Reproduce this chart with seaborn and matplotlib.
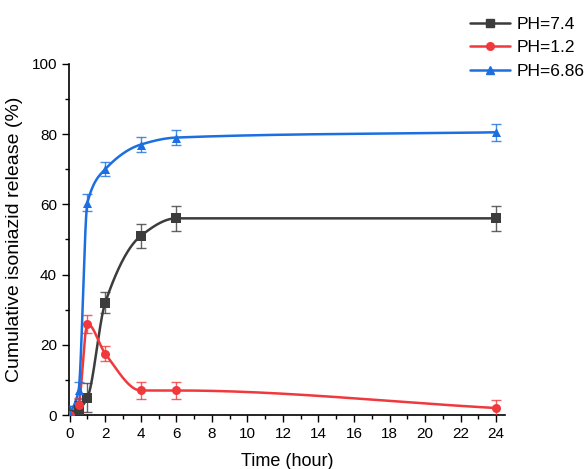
import numpy as np
import pandas as pd
import matplotlib
matplotlib.use("Agg")
import matplotlib.pyplot as plt
from matplotlib.ticker import MultipleLocator
from matplotlib.lines import Line2D
import seaborn as sns

# ---- data ----
time_h = [0, 0.5, 1, 2, 4, 6, 24]
ph74 = [0, 1.5, 5, 32, 51, 56, 56]
ph74_err = [2.5, 2.5, 4, 3, 3.5, 3.5, 3.5]
ph12 = [0, 3, 26, 17.5, 7, 7, 2]
ph12_err = [1.5, 2, 2.5, 2.2, 2.5, 2.5, 2.2]
ph686 = [0, 7, 60.5, 70, 77, 79, 80.5]
ph686_err = [2.5, 2.5, 2.5, 2, 2.2, 2.2, 2.5]
series_names = ["PH=7.4", "PH=1.2", "PH=6.86"]

colors = ["#3c3c3c", "#f0393c", "#1b6fe0"]
markers = ["s", "o", "^"]


def pchip(x, y, xs):
    x = np.asarray(x, float); y = np.asarray(y, float)
    h = np.diff(x); d = np.diff(y) / h
    n = len(x); m = np.zeros(n)
    for k in range(1, n - 1):
        if d[k - 1] * d[k] > 0:
            w1 = 2 * h[k] + h[k - 1]; w2 = h[k] + 2 * h[k - 1]
            m[k] = (w1 + w2) / (w1 / d[k - 1] + w2 / d[k])
    m[0] = d[0]; m[-1] = d[-1]
    if d[0] * m[1] < 0: m[0] = 0
    out = np.empty_like(xs)
    for i, xv in enumerate(xs):
        k = min(np.searchsorted(x, xv, side="right") - 1, n - 2)
        t = (xv - x[k]) / h[k]
        h00 = 2*t**3 - 3*t**2 + 1; h10 = t**3 - 2*t**2 + t
        h01 = -2*t**3 + 3*t**2; h11 = t**3 - t**2
        out[i] = h00*y[k] + h10*h[k]*m[k] + h01*y[k+1] + h11*h[k]*m[k+1]
    return out


sns.set_style("ticks")
plt.rcParams["font.family"] = ["Liberation Sans", "DejaVu Sans"]
plt.rcParams["text.color"] = "black"
plt.rcParams["axes.labelcolor"] = "black"
plt.rcParams["xtick.color"] = "black"
plt.rcParams["ytick.color"] = "black"

fig = plt.figure(figsize=(5.88, 4.69), dpi=100)
ax = fig.add_axes([0.117, 0.115, 0.742, 0.749])

xs = np.linspace(0, 24, 1200)
handles = []
for name, vals, errs, c, mk in zip(series_names, [ph74, ph12, ph686],
                                   [ph74_err, ph12_err, ph686_err], colors, markers):
    smooth = pd.DataFrame({"t": xs, "v": pchip(time_h, vals, xs)})
    sns.lineplot(data=smooth, x="t", y="v", color=c, lw=1.8, ax=ax, zorder=2)
    ax.errorbar(time_h, vals, yerr=errs, fmt="none", ecolor=c, elinewidth=1,
                capsize=3.5, capthick=1, alpha=0.8, zorder=3)
    pts = pd.DataFrame({"t": time_h, "v": vals})
    sns.scatterplot(data=pts, x="t", y="v", color=c, marker=mk, s=42,
                    edgecolor=c, linewidth=0, ax=ax, zorder=4)
    handles.append(Line2D([], [], color=c, lw=1.8, marker=mk, markersize=5.5, label=name))

ax.set_xlim(-0.05, 24.5)
ax.set_ylim(0, 100)
ax.xaxis.set_major_locator(MultipleLocator(2))
ax.xaxis.set_minor_locator(MultipleLocator(1))
ax.yaxis.set_major_locator(MultipleLocator(20))
ax.yaxis.set_minor_locator(MultipleLocator(10))
ax.tick_params(axis="both", which="major", length=5, width=1, labelsize=11,
               color="black", labelcolor="black")
ax.tick_params(axis="both", which="minor", length=3, width=1, color="black")
for s in ["left", "bottom"]:
    ax.spines[s].set_linewidth(1.2)
    ax.spines[s].set_color("black")
sns.despine(ax=ax)
ax.set_xlabel("Time (hour)", fontsize=13, labelpad=9)
ax.set_ylabel("Cumulative isoniazid release (%)", fontsize=14, labelpad=6)

fig.legend(handles=handles, loc="upper right", bbox_to_anchor=(1.015, 0.99),
           frameon=False, fontsize=12.5, handlelength=2.3, labelspacing=0.47,
           handletextpad=0.4, borderaxespad=0.3)

fig.savefig("out.png", dpi=100)
